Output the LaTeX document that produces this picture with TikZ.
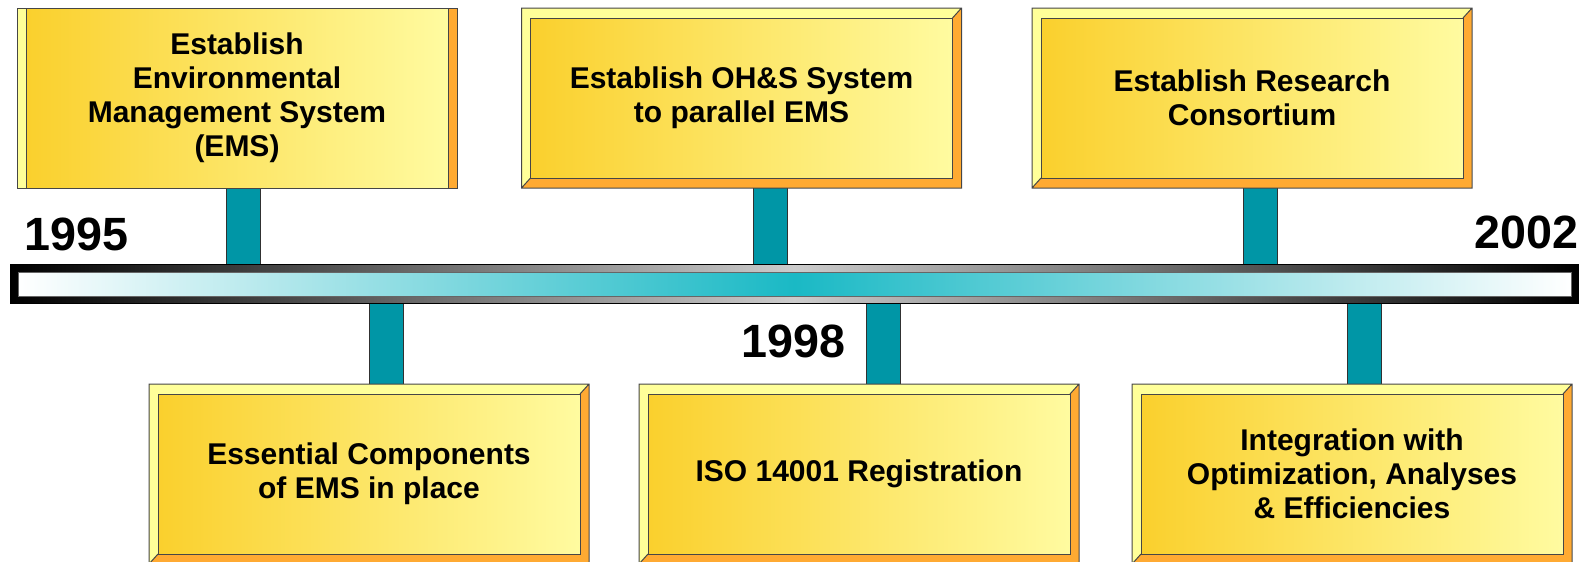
\documentclass[tikz,border=0pt]{standalone}
\usepackage{fontspec}
\setmainfont{Liberation Sans}
\usetikzlibrary{calc}

\definecolor{facegold}{RGB}{250,208,45}
\definecolor{facepale}{RGB}{255,251,160}
\definecolor{rimlight}{RGB}{255,255,153}
\definecolor{rimdark}{RGB}{255,170,50}
\definecolor{rimline}{RGB}{70,70,70}
\definecolor{stemteal}{RGB}{0,150,166}
\definecolor{barteal}{RGB}{26,185,197}

\pgfdeclarelayer{background}
\pgfsetlayers{background,main}

\tikzset{every picture/.style={line width=0.75pt}}
\tikzset{
  card/.style={draw=rimline, line width=0.75pt, inner sep=0pt, align=center,
    minimum width=316.5pt, left color=facegold, right color=facepale,
    font=\bfseries\fontsize{22.5}{25.5}\selectfont},
  stem/.style={draw=rimline!70!black, line width=0.75pt, double=stemteal,
    double distance=24.75pt},
  barframe/.style={draw=black, line width=0.75pt, minimum width=1176pt,
    minimum height=29.25pt, inner sep=0pt,
    left color=black, right color=black, middle color=black!20},
  barcore/.style={draw=black!60, line width=0.75pt, minimum width=1164.75pt,
    minimum height=18pt, inner sep=0pt,
    left color=white, right color=white, middle color=barteal},
  year/.style={inner sep=0pt, font=\bfseries\fontsize{35}{35}\selectfont}
}

% bevelled milestone box: name, centre x, centre y, top/bottom rim, text
\newcommand{\milestone}[5]{%
  \fill[rimdark] (#2-220,#3-90) rectangle (#2+220,#3+90);
  \fill[rimlight] (#2-220,#3+90) -- (#2-220,#3-90) -- (#2+220,#3-90)
    -- (#2+211,#3-90+#4) -- (#2-211,#3-90+#4) -- (#2-211,#3+90-#4) -- cycle;
  \draw[rimline] (#2-220,#3-90) rectangle (#2+220,#3+90)
    (#2+220,#3-90) -- (#2+211,#3-90+#4)
    (#2-220,#3+90) -- (#2-211,#3+90-#4);
  \node[card, minimum height={(180-2*#4)*0.75pt}] (#1) at (#2,#3) {#5};
}

\begin{document}
\begin{tikzpicture}[x=0.75pt,y=0.75pt,yscale=-1,xscale=1]
\useasboundingbox (0,0) rectangle (1594,561);

%Shape: Time Bar
\node[barframe] (bar) at (794,283.5) {};
\node[barcore] (barin) at (794.5,284) {};

%Shape: Bevel Boxes (top row)
\milestone{ems}{237}{98}{0}{Establish\\Environmental\\Management System\\(EMS)}
\milestone{ohs}{741.5}{98}{10}{Establish OH\&S System\\to parallel EMS}
\milestone{consortium}{1252}{98}{10}{Establish Research\\Consortium}

%Shape: Bevel Boxes (bottom row)
\milestone{components}{369}{474}{10}{Essential Components\\of EMS in place}
\milestone{iso}{859}{474}{10}{ISO 14001 Registration}
\milestone{integration}{1352}{474}{10}{Integration with\\Optimization, Analyses\\\& Efficiencies}

%Straight Lines: stems
\coordinate (s1) at ($(ems.south)+(6,0)$);
\coordinate (s2) at ($(ohs.south)+(28.5,0)$);
\coordinate (s3) at ($(consortium.south)+(8,0)$);
\coordinate (s4) at ($(components.north)+(17,0)$);
\coordinate (s5) at ($(iso.north)+(24,0)$);
\coordinate (s6) at ($(integration.north)+(12.5,0)$);
\begin{pgfonlayer}{background}
\draw[stem] (s1) -- (s1 |- bar.north);
\draw[stem] (s2) -- (s2 |- bar.north);
\draw[stem] (s3) -- (s3 |- bar.north);
\draw[stem] (s4) -- (s4 |- bar.south);
\draw[stem] (s5) -- (s5 |- bar.south);
\draw[stem] (s6) -- (s6 |- bar.south);
\end{pgfonlayer}

% Text Node
\node[year, anchor=base west] (start) at (24,250) {1995};
% Text Node
\node[year, anchor=base east] (mid) at (846,357) {1998};
% Text Node
\node[year, anchor=base east] (end) at (1579,248) {2002};

\end{tikzpicture}
\end{document}
